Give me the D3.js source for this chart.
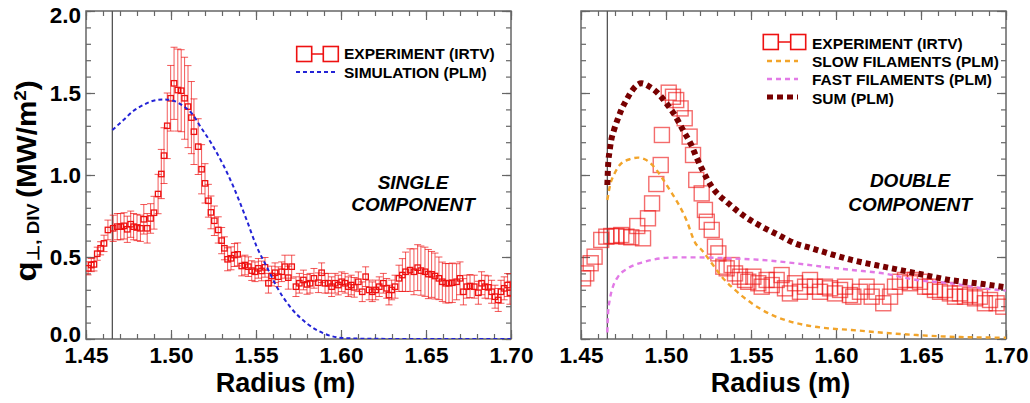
<!DOCTYPE html>
<html>
<head>
<meta charset="utf-8">
<script src="https://cdn.jsdelivr.net/npm/d3@7"></script>
<style>
  body { margin: 0; background: #fff; }
  svg { display: block; font-family: "Liberation Sans", Arial, Helvetica, sans-serif; }
</style>
</head>
<body>
<svg id="chart" width="1030" height="403"></svg>
<script>
// ---- axis ticks ----
const radiusTicks = [1.45, 1.50, 1.55, 1.60, 1.65, 1.70];
const radiusMinorTicks = d3.range(145, 171).map(d => d / 100);
const fluxTicks = [0.0, 0.5, 1.0, 1.5, 2.0];
const fluxMinorTicks = d3.range(0, 21).map(d => d / 10);
const separatrixRadius = 1.4655;

// ---- IRTV measurement, single-component panel (with error bars) ----
const irtvRadius = [
  1.4512,1.4531,1.4547,1.4566,1.4586,1.4606,1.4629,1.4660,1.4684,1.4704,
  1.4724,1.4743,1.4763,1.4780,1.4800,1.4820,1.4840,1.4860,1.4880,1.4900,
  1.4924,1.4943,1.4959,1.4978,1.4998,1.5018,1.5040,1.5060,1.5080,1.5100,
  1.5120,1.5135,1.5160,1.5180,1.5200,1.5220,1.5235,1.5255,1.5278,1.5298,
  1.5314,1.5333,1.5353,1.5373,1.5392,1.5416,1.5435,1.5455,1.5475,1.5494,
  1.5514,1.5533,1.5553,1.5573,1.5592,1.5612,1.5631,1.5651,1.5670,1.5690,
  1.5710,1.5735,1.5755,1.5779,1.5800,1.5818,1.5841,1.5867,1.5886,1.5906,
  1.5925,1.5945,1.5965,1.5984,1.6004,1.6024,1.6043,1.6060,1.6078,1.6102,
  1.6125,1.6145,1.6165,1.6184,1.6204,1.6225,1.6249,1.6269,1.6282,1.6298,
  1.6318,1.6341,1.6361,1.6380,1.6406,1.6429,1.6451,1.6470,1.6494,1.6514,
  1.6533,1.6553,1.6576,1.6596,1.6616,1.6635,1.6655,1.6680,1.6700,1.6720,
  1.6740,1.6759,1.6784,1.6808,1.6827,1.6847,1.6867,1.6886,1.6906,1.6925,
  1.6941,1.6960,1.6980,1.6994
];
const irtvFlux = [
  0.431,0.451,0.455,0.520,0.553,0.583,0.665,0.675,0.685,0.685,
  0.690,0.669,0.700,0.685,0.680,0.675,0.730,0.675,0.735,0.770,
  0.884,1.006,1.118,1.300,1.468,1.559,1.518,1.514,1.468,1.417,
  1.350,1.264,1.173,1.035,0.949,0.843,0.772,0.721,0.665,0.600,
  0.553,0.486,0.492,0.512,0.516,0.445,0.451,0.441,0.417,0.410,
  0.431,0.415,0.437,0.340,0.384,0.404,0.380,0.410,0.441,0.374,
  0.441,0.319,0.340,0.360,0.333,0.340,0.370,0.343,0.404,0.340,
  0.340,0.319,0.340,0.329,0.349,0.340,0.319,0.329,0.315,0.349,
  0.288,0.380,0.299,0.288,0.299,0.319,0.340,0.309,0.268,0.299,
  0.319,0.370,0.390,0.410,0.420,0.410,0.435,0.417,0.410,0.396,
  0.394,0.384,0.370,0.349,0.340,0.340,0.343,0.349,0.370,0.288,
  0.319,0.323,0.319,0.282,0.340,0.319,0.315,0.288,0.258,0.238,
  0.288,0.309,0.329,0.282
];
const irtvError = [
  0.04,0.04,0.04,0.04,0.04,0.05,0.06,0.08,0.08,0.08,
  0.08,0.08,0.08,0.08,0.08,0.08,0.09,0.09,0.09,0.10,
  0.12,0.15,0.17,0.20,0.20,0.22,0.25,0.25,0.25,0.25,
  0.22,0.20,0.17,0.15,0.12,0.10,0.10,0.09,0.08,0.08,
  0.07,0.07,0.07,0.07,0.07,0.06,0.06,0.06,0.06,0.06,
  0.06,0.06,0.06,0.06,0.06,0.06,0.06,0.06,0.07,0.07,
  0.07,0.06,0.06,0.06,0.06,0.06,0.06,0.06,0.06,0.06,
  0.06,0.06,0.06,0.06,0.06,0.06,0.06,0.06,0.06,0.06,
  0.06,0.06,0.06,0.06,0.06,0.06,0.06,0.06,0.06,0.06,
  0.07,0.08,0.10,0.12,0.13,0.14,0.14,0.15,0.15,0.15,
  0.14,0.14,0.13,0.12,0.12,0.12,0.12,0.11,0.10,0.08,
  0.07,0.07,0.07,0.07,0.07,0.07,0.07,0.07,0.07,0.07,
  0.07,0.07,0.07,0.07
];

// ---- single-component PLM simulation ----
const simRadius = [1.4655,1.4720,1.4778,1.4837,1.4896,1.4955,1.5014,1.5073,1.5130,1.5170,
  1.5249,1.5367,1.5445,1.5504,1.5563,1.5622,1.5700,1.5798,1.5896,1.6014,1.6200,1.6500,1.7000];
const simFlux = [1.274,1.335,1.390,1.427,1.453,1.461,1.453,1.420,1.366,1.300,
  1.173,0.929,0.726,0.563,0.441,0.319,0.197,0.096,0.035,0.006,0.001,0.000,0.000];

// ---- IRTV measurement, double-component panel ----
const irtv2Radius = [
  1.4512,1.4531,1.4557,1.4580,1.4619,1.4649,1.4678,1.4708,1.4737,1.4767,
  1.4796,1.4831,1.4865,1.4894,1.4918,1.4943,1.4969,1.4976,1.5016,1.5041,
  1.5060,1.5086,1.5110,1.5139,1.5159,1.5178,1.5210,1.5229,1.5240,1.5269,
  1.5288,1.5308,1.5337,1.5357,1.5386,1.5406,1.5435,1.5465,1.5484,1.5514,
  1.5543,1.5563,1.5592,1.5622,1.5651,1.5680,1.5700,1.5729,1.5759,1.5788,
  1.5818,1.5847,1.5876,1.5906,1.5935,1.5965,1.5994,1.6024,1.6053,1.6082,
  1.6102,1.6141,1.6180,1.6210,1.6239,1.6278,1.6318,1.6347,1.6376,1.6406,
  1.6435,1.6465,1.6494,1.6524,1.6553,1.6582,1.6612,1.6641,1.6670,1.6700,
  1.6729,1.6759,1.6788,1.6818,1.6847,1.6876,1.6906,1.6945,1.6984
];
const irtv2Flux = [
  0.370,0.400,0.462,0.502,0.604,0.624,0.628,0.628,0.634,0.624,
  0.620,0.689,0.614,0.736,0.827,0.945,1.061,1.244,1.502,1.477,
  1.457,1.406,1.346,1.234,1.122,0.970,0.888,0.787,0.715,0.665,
  0.563,0.522,0.441,0.431,0.451,0.400,0.380,0.360,0.349,0.380,
  0.340,0.319,0.360,0.329,0.360,0.390,0.309,0.278,0.340,0.288,
  0.319,0.360,0.319,0.288,0.319,0.309,0.278,0.299,0.319,0.268,
  0.258,0.288,0.319,0.258,0.288,0.218,0.258,0.319,0.349,0.360,
  0.340,0.360,0.349,0.319,0.319,0.299,0.288,0.299,0.278,0.258,
  0.278,0.258,0.268,0.248,0.258,0.218,0.238,0.218,0.197
];

// ---- double-component PLM model: slow, fast and their sum ----
const slowRadius = [1.4655,1.4669,1.4698,1.4737,1.4786,1.4835,1.4884,1.4929,1.4972,1.5022,
  1.5071,1.5120,1.5171,1.5210,1.5269,1.5328,1.5406,1.5504,1.5602,1.5700,
  1.5818,1.5955,1.6092,1.6278,1.6475,1.6670,1.7000];
const slowFlux = [0.848,0.929,1.010,1.071,1.096,1.106,1.091,1.050,0.990,0.909,
  0.827,0.726,0.588,0.543,0.462,0.380,0.299,0.218,0.157,0.116,
  0.085,0.065,0.055,0.038,0.024,0.014,0.008];

const fastRadius = [1.4655,1.4659,1.4669,1.4688,1.4718,1.4776,1.4875,1.4972,1.5071,1.5178,
  1.5367,1.5563,1.5759,1.5955,1.6092,1.6278,1.6475,1.6670,1.6867,1.7000];
const fastFlux = [0.040,0.157,0.238,0.319,0.380,0.431,0.471,0.492,0.498,0.498,
  0.492,0.482,0.462,0.437,0.421,0.400,0.360,0.340,0.309,0.295];

const sumRadius = [1.4655,1.4659,1.4669,1.4678,1.4694,1.4714,1.4737,1.4767,1.4800,1.4855,
  1.4904,1.4953,1.5002,1.5051,1.5100,1.5149,1.5178,1.5210,1.5269,1.5367,
  1.5465,1.5563,1.5661,1.5759,1.5857,1.5955,1.6092,1.6278,1.6376,1.6475,
  1.6670,1.6867,1.7000];
const sumFlux = [0.939,1.050,1.152,1.213,1.274,1.335,1.396,1.457,1.514,1.559,
  1.538,1.498,1.437,1.366,1.274,1.183,1.111,1.040,0.929,0.827,
  0.746,0.685,0.634,0.583,0.553,0.522,0.482,0.441,0.421,0.400,
  0.360,0.335,0.315];

// ---- layout & styles ----
const plotTop = 11, plotBottom = 339;
const frameColor = "#666";
const expRed = "#ee1111";
const simBlue = "#2323d6";
const slowOrange = "#f2a42a";
const fastPink = "#e27ae6";
const sumDark = "#780000";

const svg = d3.select("#chart");
const y = d3.scaleLinear().domain([0, 2]).range([plotBottom, plotTop]);

function zip(xs, ys) { return xs.map((r, i) => [r, ys[i]]); }

function makePanel(id, left, right, showYLabels) {
  const x = d3.scaleLinear().domain([1.45, 1.70]).range([left, right]);
  const g = svg.append("g");

  g.append("defs").append("clipPath").attr("id", id)
    .append("rect").attr("x", left).attr("y", plotTop)
    .attr("width", right - left).attr("height", plotBottom - plotTop);

  const axes = g.append("g").style("color", frameColor);
  const style = sel => {
    sel.select(".domain").remove();
    sel.selectAll(".tick line").attr("stroke-width", 1.2);
  };

  // bottom
  axes.append("g").attr("transform", `translate(0,${plotBottom})`)
    .call(d3.axisBottom(x).tickValues(radiusMinorTicks).tickSize(-5).tickFormat("")).call(style);
  const bx = axes.append("g").attr("transform", `translate(0,${plotBottom})`)
    .call(d3.axisBottom(x).tickValues(radiusTicks).tickSize(-9).tickPadding(8).tickFormat(d3.format(".2f")))
    .call(style);
  bx.selectAll("text").attr("fill", "#000").style("font-size", "22.5px").style("font-weight", "bold")
    .style("font-family", "'Liberation Sans', Arial, sans-serif");

  // top
  axes.append("g").attr("transform", `translate(0,${plotTop})`)
    .call(d3.axisTop(x).tickValues(radiusMinorTicks).tickSize(-5).tickFormat("")).call(style);
  axes.append("g").attr("transform", `translate(0,${plotTop})`)
    .call(d3.axisTop(x).tickValues(radiusTicks).tickSize(-9).tickFormat("")).call(style);

  // left
  axes.append("g").attr("transform", `translate(${left},0)`)
    .call(d3.axisLeft(y).tickValues(fluxMinorTicks).tickSize(-5).tickFormat("")).call(style);
  const ly = axes.append("g").attr("transform", `translate(${left},0)`)
    .call(d3.axisLeft(y).tickValues(fluxTicks).tickSize(-9).tickPadding(5)
      .tickFormat(showYLabels ? d3.format(".1f") : ""))
    .call(style);
  ly.selectAll("text").attr("fill", "#000").style("font-size", "22.5px").style("font-weight", "bold")
    .style("font-family", "'Liberation Sans', Arial, sans-serif")
    .attr("dy", d => d === 2 ? "0.52em" : d === 0 ? "0.12em" : "0.32em");

  // right
  axes.append("g").attr("transform", `translate(${right},0)`)
    .call(d3.axisRight(y).tickValues(fluxMinorTicks).tickSize(-5).tickFormat("")).call(style);
  axes.append("g").attr("transform", `translate(${right},0)`)
    .call(d3.axisRight(y).tickValues(fluxTicks).tickSize(-9).tickFormat("")).call(style);

  // frame
  g.append("rect").attr("x", left).attr("y", plotTop)
    .attr("width", right - left).attr("height", plotBottom - plotTop)
    .attr("fill", "none").attr("stroke", frameColor).attr("stroke-width", 1.5);

  // separatrix marker
  g.append("line").attr("x1", x(separatrixRadius)).attr("x2", x(separatrixRadius))
    .attr("y1", plotTop).attr("y2", plotBottom)
    .attr("stroke", "#555").attr("stroke-width", 1.3);

  // x title
  g.append("text").attr("x", (left + right) / 2 - 13).attr("y", 392)
    .attr("text-anchor", "middle").attr("font-size", 27).attr("font-weight", "bold")
    .text("Radius (m)");

  const plot = g.append("g").attr("clip-path", `url(#${id})`);
  return { x, g, plot };
}

const line = xs => d3.line().x(d => xs(d[0])).y(d => y(d[1])).curve(d3.curveMonotoneX);

// ================= single component =================
const p1 = makePanel("clipA", 86, 511, true);
{
  const { x, plot } = p1;
  const pts = irtvRadius.map((r, i) => ({ r, v: irtvFlux[i], e: irtvError[i] }));
  const bars = plot.append("g").attr("stroke", expRed).attr("stroke-opacity", 0.7).attr("stroke-width", 1);
  bars.selectAll("line.v").data(pts).join("line").attr("class", "v")
    .attr("x1", d => x(d.r)).attr("x2", d => x(d.r))
    .attr("y1", d => y(d.v - d.e)).attr("y2", d => y(d.v + d.e));
  bars.selectAll("line.t").data(pts).join("line").attr("class", "t")
    .attr("x1", d => x(d.r) - 3.5).attr("x2", d => x(d.r) + 3.5)
    .attr("y1", d => y(d.v + d.e)).attr("y2", d => y(d.v + d.e));
  bars.selectAll("line.b").data(pts).join("line").attr("class", "b")
    .attr("x1", d => x(d.r) - 3.5).attr("x2", d => x(d.r) + 3.5)
    .attr("y1", d => y(d.v - d.e)).attr("y2", d => y(d.v - d.e));
  plot.append("g").selectAll("rect").data(pts).join("rect")
    .attr("x", d => x(d.r) - 2.7).attr("y", d => y(d.v) - 2.7)
    .attr("width", 5.4).attr("height", 5.4)
    .attr("fill", "none").attr("stroke", expRed).attr("stroke-width", 1.3);

  plot.append("path").datum(zip(simRadius, simFlux))
    .attr("d", line(x)).attr("fill", "none").attr("stroke", simBlue)
    .attr("stroke-width", 2).attr("stroke-dasharray", "4,3");
}
{
  const g = p1.g;
  // legend
  const sq = 15, ly = 54;
  g.append("line").attr("x1", 311.5).attr("x2", 323.5).attr("y1", ly).attr("y2", ly)
    .attr("stroke", expRed).attr("stroke-width", 1.5);
  [304.2, 330.8].forEach(cx => g.append("rect").attr("x", cx - sq / 2).attr("y", ly - sq / 2)
    .attr("width", sq).attr("height", sq).attr("fill", "none").attr("stroke", expRed).attr("stroke-width", 1.6));
  g.append("line").attr("x1", 296).attr("x2", 335).attr("y1", 72).attr("y2", 72)
    .attr("stroke", simBlue).attr("stroke-width", 2).attr("stroke-dasharray", "4,3");
  const lt = g.append("g").attr("font-size", 15.5).attr("font-weight", "bold");
  lt.append("text").attr("x", 344).attr("y", 59).text("EXPERIMENT (IRTV)");
  lt.append("text").attr("x", 344).attr("y", 77.5).text("SIMULATION (PLM)");

  const ann = g.append("g").attr("font-size", 19).attr("font-weight", "bold")
    .attr("font-style", "italic").attr("text-anchor", "middle");
  ann.append("text").attr("x", 413).attr("y", 188.5).text("SINGLE");
  ann.append("text").attr("x", 413).attr("y", 211).text("COMPONENT");

  // y title
  const yt = svg.append("text").attr("transform", "translate(36,181) rotate(-90) scale(1.1,1)")
    .attr("text-anchor", "middle").attr("font-weight", "bold").attr("font-size", 27);
  yt.append("tspan").attr("font-size", 30).text("q");
  yt.append("tspan").attr("font-size", 17).attr("dy", 3).text("\u22A5, DIV ");
  yt.append("tspan").attr("dy", -3).text("(MW/m");
  yt.append("tspan").attr("font-size", 17).attr("dy", -10).text("2");
  yt.append("tspan").attr("dy", 10).text(")");
}

// ================= double component =================
const p2 = makePanel("clipB", 581, 1006, false);
{
  const { x, plot } = p2;
  plot.append("g").selectAll("rect").data(zip(irtv2Radius, irtv2Flux)).join("rect")
    .attr("x", d => x(d[0]) - 7.5).attr("y", d => y(d[1]) - 7.5)
    .attr("width", 15).attr("height", 15)
    .attr("fill", "none").attr("stroke", expRed).attr("stroke-opacity", 0.62).attr("stroke-width", 1.4);

  plot.append("path").datum(zip(fastRadius, fastFlux))
    .attr("d", line(x)).attr("fill", "none").attr("stroke", fastPink)
    .attr("stroke-width", 2.4).attr("stroke-dasharray", "5,4");
  plot.append("path").datum(zip(slowRadius, slowFlux))
    .attr("d", line(x)).attr("fill", "none").attr("stroke", slowOrange)
    .attr("stroke-width", 2.4).attr("stroke-dasharray", "5,4");
  plot.append("path").datum(zip(sumRadius, sumFlux))
    .attr("d", line(x)).attr("fill", "none").attr("stroke", sumDark)
    .attr("stroke-width", 6).attr("stroke-dasharray", "5,4");
}
{
  const g = p2.g;
  const sq = 15, ly = 42;
  g.append("line").attr("x1", 778).attr("x2", 791).attr("y1", ly).attr("y2", ly)
    .attr("stroke", expRed).attr("stroke-width", 1.5);
  [770.8, 798.2].forEach(cx => g.append("rect").attr("x", cx - sq / 2).attr("y", ly - sq / 2)
    .attr("width", sq).attr("height", sq).attr("fill", "none").attr("stroke", expRed).attr("stroke-width", 1.6));
  g.append("line").attr("x1", 767).attr("x2", 798).attr("y1", 61).attr("y2", 61)
    .attr("stroke", slowOrange).attr("stroke-width", 2.4).attr("stroke-dasharray", "5,4");
  g.append("line").attr("x1", 767).attr("x2", 798).attr("y1", 79).attr("y2", 79)
    .attr("stroke", fastPink).attr("stroke-width", 2.4).attr("stroke-dasharray", "5,4");
  g.append("line").attr("x1", 767).attr("x2", 798).attr("y1", 97).attr("y2", 97)
    .attr("stroke", sumDark).attr("stroke-width", 5).attr("stroke-dasharray", "6,4");
  const lt = g.append("g").attr("font-size", 15.5).attr("font-weight", "bold");
  lt.append("text").attr("x", 812).attr("y", 48.5).text("EXPERIMENT (IRTV)");
  lt.append("text").attr("x", 812).attr("y", 67).text("SLOW FILAMENTS (PLM)");
  lt.append("text").attr("x", 812).attr("y", 85).text("FAST FILAMENTS (PLM)");
  lt.append("text").attr("x", 812).attr("y", 103.5).text("SUM (PLM)");

  const ann = g.append("g").attr("font-size", 19).attr("font-weight", "bold")
    .attr("font-style", "italic").attr("text-anchor", "middle");
  ann.append("text").attr("x", 910).attr("y", 187).text("DOUBLE");
  ann.append("text").attr("x", 910).attr("y", 211).text("COMPONENT");
}
</script>
</body>
</html>
